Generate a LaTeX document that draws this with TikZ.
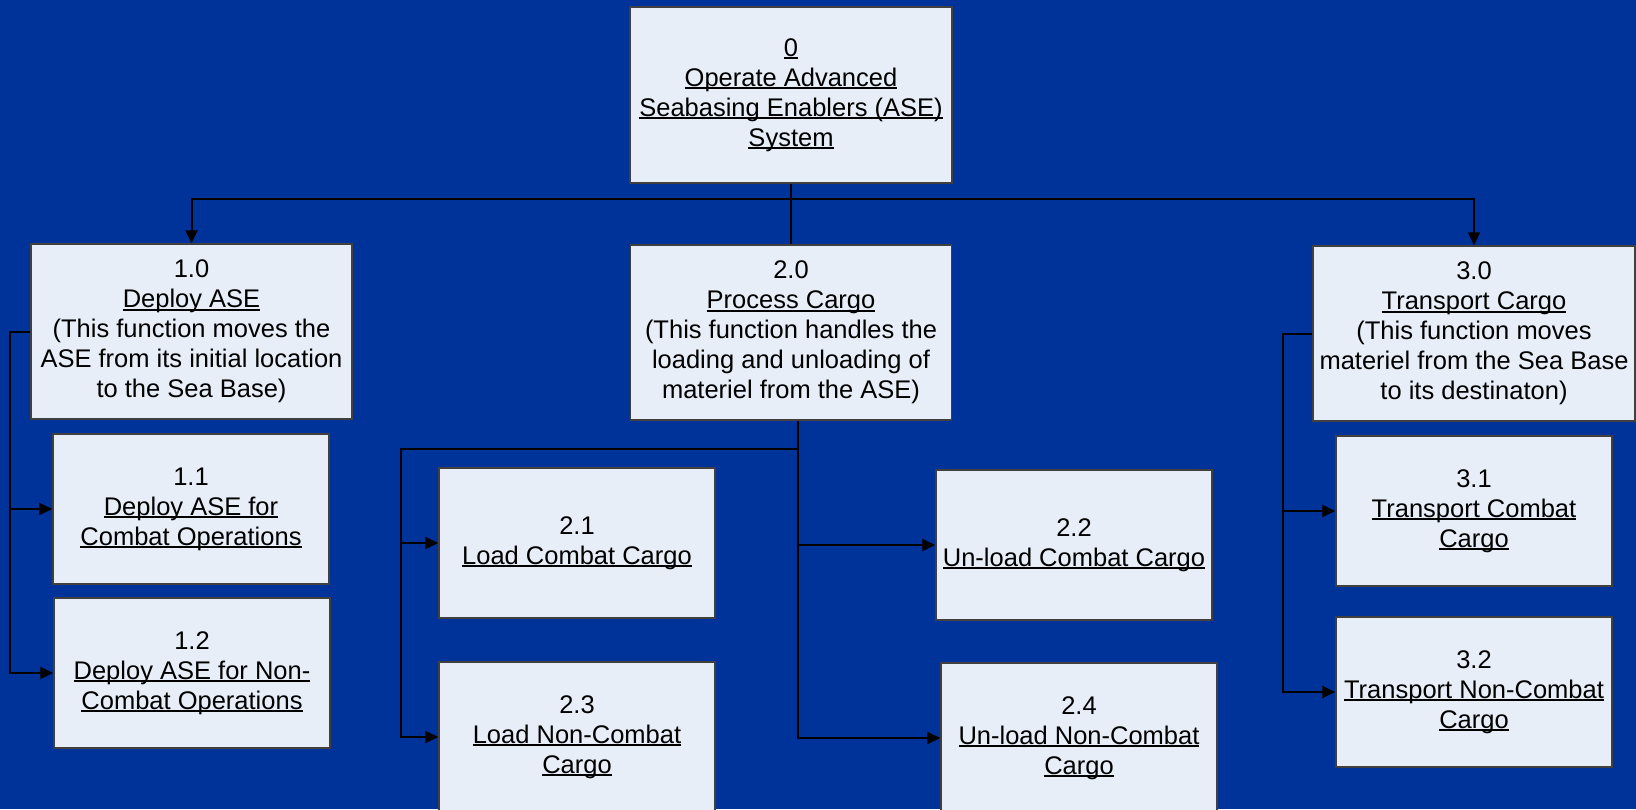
\documentclass[tikz,border=0pt]{standalone}
\usepackage{fontspec}
\setmainfont{Liberation Sans}
\usetikzlibrary{arrows.meta,calc}
\definecolor{seablue}{RGB}{0,51,153}
\definecolor{boxfill}{RGB}{232,238,248}
\definecolor{boxline}{RGB}{64,64,64}
\newcommand{\undl}[1]{\sbox0{#1}\rlap{\rule[-0.11em]{\wd0}{0.075em}}\usebox0}
\tikzset{
    func/.style =   {rectangle,
                    fill=boxfill,
                    draw=boxline,
                    text=black,
                    line width=1.5pt,
                    align=center,
                    inner sep=0pt,
                    font=\fontsize{25.5}{30}\selectfont},
    big/.style =    {func,
                    minimum width=321pt,
                    minimum height=175pt},
    small/.style =  {func,
                    minimum width=276pt,
                    minimum height=150pt},
    -,
    link/.style =   {draw=black,
                    line width=2pt},
    arr/.style =    {link,
                    -{Triangle[length=13pt,width=12pt]}}}

\begin{document}
\begin{tikzpicture}[x=1pt,y=-1pt]
                \fill[seablue] (0,0) rectangle (1636,809);
                \useasboundingbox (0,0) rectangle (1636,809);
                % top level
                \node[big,minimum width=322pt,minimum height=176pt] (top) at (791,95)
                    {\undl{0}\\\undl{Operate Advanced}\\\undl{Seabasing Enablers (ASE)}\\\undl{System}};
                % first level
                \node[big]  (d1) at (191.5,331.5)
                    {1.0\\\undl{Deploy ASE}\\(This function moves the\\ASE from its initial location\\to the Sea Base)};
                \node[big]  (p2) at (791,332.5)
                    {2.0\\\undl{Process Cargo}\\(This function handles the\\loading and unloading of\\materiel from the ASE)};
                \node[big,minimum width=322pt] (t3) at (1474,333.5)
                    {3.0\\\undl{Transport Cargo}\\(This function moves\\materiel from the Sea Base\\to its destinaton)};
                % second level
                \node[small] (d11) at (191,509)   {1.1\\\undl{Deploy ASE for}\\\undl{Combat Operations}};
                \node[small] (d12) at (192,673)   {1.2\\\undl{Deploy ASE for Non-}\\\undl{Combat Operations}};
                \node[small] (p21) at (577,543)   {2.1\\\undl{Load Combat Cargo}};
                \node[small] (p23) at (577,737)   {2.3\\\undl{Load Non-Combat}\\\undl{Cargo}};
                \node[small] (p22) at (1074,545)  {2.2\\\undl{Un-load Combat Cargo}};
                \node[small] (p24) at (1079,738)  {2.4\\\undl{Un-load Non-Combat}\\\undl{Cargo}};
                \node[small] (t31) at (1474,511)  {3.1\\\undl{Transport Combat}\\\undl{Cargo}};
                \node[small] (t32) at (1474,692)  {3.2\\\undl{Transport Non-Combat}\\\undl{Cargo}};
                % connectors
                \coordinate (bus) at (791,199);
                \coordinate (ps)  at ([xshift=7pt]p2.south);
                \coordinate (pl)  at (401,449);
                \draw[link] (top.south) -- (p2.north);
                \draw[arr]  (bus) -| (d1.north);
                \draw[arr]  (bus) -| (t3.north);
                \draw[arr]  (d1.west) -- ++(-20,0) |- (d11.west);
                \draw[arr]  (d1.west) -- ++(-20,0) |- (d12.west);
                \draw[arr]  (t3.west) -- ++(-29,0) |- (t31.west);
                \draw[arr]  (t3.west) -- ++(-29,0) |- (t32.west);
                \draw[arr]  (ps) |- (pl) |- (p21.west);
                \draw[arr]  (pl) |- (p23.west);
                \draw[arr]  (ps) |- (p22.west);
                \draw[arr]  (ps) |- (p24.west);
\end{tikzpicture}
\end{document}
